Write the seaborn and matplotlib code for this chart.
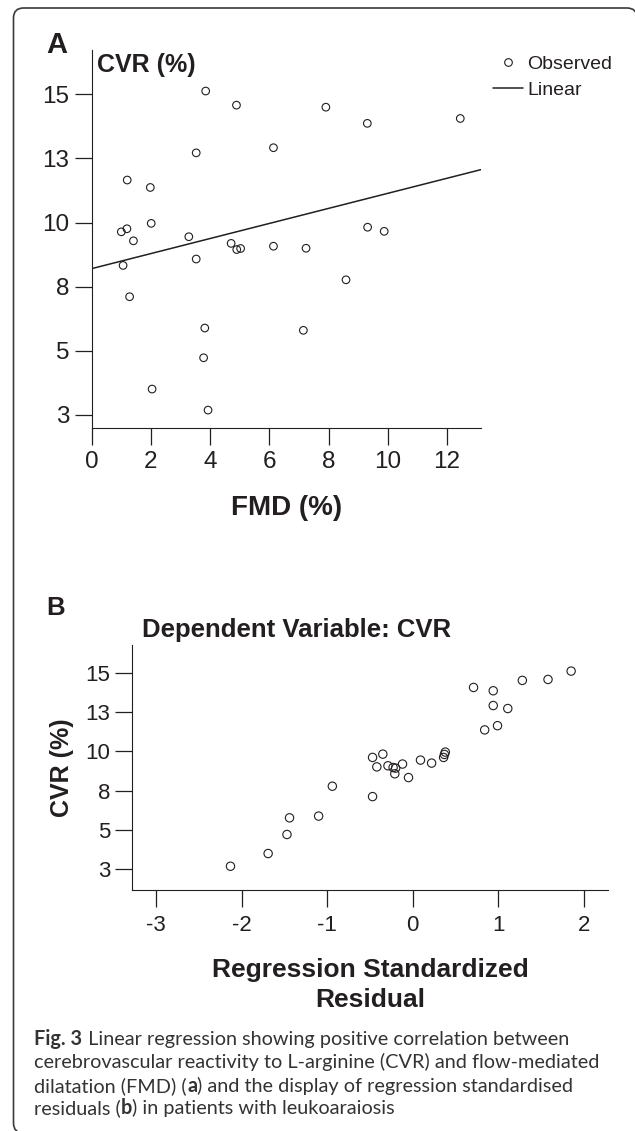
import matplotlib
matplotlib.use("Agg")
import matplotlib.pyplot as plt
from matplotlib.lines import Line2D
from matplotlib.patches import PathPatch
from matplotlib.path import Path
from matplotlib.transforms import IdentityTransform
import seaborn as sns
import pandas as pd

# panel A: FMD (%) vs CVR (%)
fmd = [3.85, 4.89, 3.53, 6.14, 1.20, 1.98, 2.01, 1.00, 1.19, 1.41,
       3.28, 4.71, 4.90, 5.03, 6.14, 7.24, 3.53, 1.06, 1.28, 3.82,
       7.15, 3.78, 2.04, 3.93, 7.91, 9.31, 12.45, 9.32, 9.88, 8.59]
cvr = [15.13, 14.58, 12.72, 12.92, 11.66, 11.37, 9.97, 9.64, 9.76, 9.29,
       9.45, 9.19, 8.95, 8.99, 9.08, 9.00, 8.58, 8.33, 7.11, 5.89,
       5.80, 4.73, 3.51, 2.69, 14.50, 13.87, 14.06, 9.82, 9.66, 7.77]

# panel B: standardized residual vs CVR (%)
resid = [1.85, 1.58, 1.28, 0.71, 0.94, 0.94, 1.11, 0.99, 0.84, 0.38,
         0.37, 0.36, -0.35, -0.47, -0.42, -0.29, -0.23, -0.20, -0.21, -0.12,
         -0.05, 0.09, 0.22, -0.94, -0.47, -1.44, -1.10, -1.47, -1.69, -2.13]
cvr_b = [15.10, 14.57, 14.51, 14.06, 13.85, 12.91, 12.72, 11.63, 11.36, 9.95,
         9.80, 9.61, 9.82, 9.61, 9.01, 9.08, 8.97, 8.93, 8.57, 9.19,
         8.33, 9.44, 9.25, 7.78, 7.12, 5.77, 5.88, 4.71, 3.50, 2.69]

cvr_ticks = [2.5, 5, 7.5, 10, 12.5, 15]
cvr_ticklabels = ["3", "5", "8", "10", "13", "15"]
fmd_ticks = [0, 2, 4, 6, 8, 10, 12]
resid_ticks = [-3, -2, -1, 0, 1, 2]

caption = [
    [("Fig. 3", "bold"), (" Linear regression showing positive correlation between", "normal")],
    [("cerebrovascular reactivity to L-arginine (CVR) and flow-mediated", "normal")],
    [("dilatation (FMD) (", "normal"), ("a", "bold"), (") and the display of regression standardised", "normal")],
    [("residuals (", "normal"), ("b", "bold"), (") in patients with leukoaraiosis", "normal")],
]

INK = "#231f20"
W, H = 635, 1131

sns.set_style("ticks")
plt.rcParams["font.family"] = ["Liberation Sans", "DejaVu Sans"]
plt.rcParams["text.color"] = INK
plt.rcParams["axes.edgecolor"] = INK
plt.rcParams["axes.labelcolor"] = INK


def fx(px):
    return px / W


def fy(py):
    return 1 - py / H


fig = plt.figure(figsize=(W / 100, H / 100), dpi=100)
axA = fig.add_axes([fx(91.7), fy(428.3), fx(481) - fx(91.7), fy(50) - fy(428.3)])
axB = fig.add_axes([fx(132.3), fy(890), fx(607.5) - fx(132.3), fy(645) - fy(890)])

# ---- panel A
dfA = pd.DataFrame({"FMD": fmd, "CVR": cvr})
axA.set_xlim(0, 13.15)
axA.set_ylim(1.98, 16.73)
sns.regplot(data=dfA, x="FMD", y="CVR", scatter=False, ci=None, truncate=False,
            color=INK, line_kws={"linewidth": 1.1}, ax=axA)
sns.scatterplot(data=dfA, x="FMD", y="CVR", marker="o", s=30, color=INK,
                facecolors="none", edgecolor=INK, linewidth=0.8, ax=axA)
axA.set_xlim(0, 13.15)
axA.set_ylim(1.98, 16.73)
axA.set_xticks(fmd_ticks)
axA.set_yticks(cvr_ticks)
axA.set_yticklabels(cvr_ticklabels)
axA.tick_params(direction="out", length=12, width=0.9, colors=INK, labelsize=17.5, pad=4)
axA.set_xlabel("FMD (%)", fontsize=20, fontweight="bold", labelpad=16)
axA.set_ylabel("")
axA.text(0.013, (428.3 - 71.7) / 378.3, "CVR (%)", transform=axA.transAxes,
         ha="left", va="baseline", fontsize=18, fontweight="bold")
sns.despine(ax=axA)

handles = [
    Line2D([], [], marker="o", ls="none", mfc="none", mec=INK, ms=5.5, mew=0.8),
    Line2D([], [], color=INK, lw=1.1),
]
fig.legend(handles, ["Observed", "Linear"], loc="upper left",
           bbox_to_anchor=(fx(493), fy(55)), frameon=False, fontsize=14,
           handlelength=1.55, handletextpad=0.2, labelspacing=0.45,
           borderpad=0, borderaxespad=0)

# ---- panel B
dfB = pd.DataFrame({"resid": resid, "CVR": cvr_b})
sns.scatterplot(data=dfB, x="resid", y="CVR", marker="o", s=36, color=INK,
                facecolors="none", edgecolor=INK, linewidth=0.8, ax=axB)
axB.set_xlim(-3.277, 2.275)
axB.set_ylim(1.18, 16.76)
axB.set_xticks(resid_ticks)
axB.set_xticklabels([str(t) for t in resid_ticks])
axB.set_yticks(cvr_ticks)
axB.set_yticklabels(cvr_ticklabels)
axB.tick_params(direction="out", length=12, width=0.9, colors=INK, labelsize=16, pad=4)
axB.tick_params(axis="x", pad=6)
axB.set_xlabel("Regression Standardized\nResidual", fontsize=19, fontweight="bold",
               labelpad=16, linespacing=1.3)
axB.set_ylabel("CVR (%)", fontsize=18, fontweight="bold", labelpad=8)
sns.despine(ax=axB)

# panel letters and title
fig.text(fx(46.7), fy(53.3), "A", fontsize=21, fontweight="bold", va="baseline")
fig.text(fx(46.6), fy(615), "B", fontsize=18.5, fontweight="bold", va="baseline")
fig.text(fx(141.8), fy(636.7), "Dependent Variable: CVR", fontsize=18.5,
         fontweight="bold", va="baseline")

# caption: pieces laid end to end on one baseline so bold bits sit inline
renderer = fig.canvas.get_renderer()
baselines = [1045, 1068.3, 1091.7, 1114]
for parts, base in zip(caption, baselines):
    x = fx(34.4)
    for txt, wt in parts:
        t = fig.text(x, fy(base), txt, fontsize=14.3, fontweight=wt,
                     family=["Lato", "DejaVu Sans"], color="#333333", va="baseline")
        x = fx(t.get_window_extent(renderer).x1)

# frame: left and top edges with rounded corners (pixel coords, y from bottom)
L, T, R, r = 13.5, H - 8, 637, 10
verts = [(L + r, -2), (L, -2), (L, r - 2),
         (L, T - r), (L, T), (L + r, T),
         (R - r, T), (R, T), (R, T - r)]
codes = [Path.MOVETO, Path.CURVE3, Path.CURVE3,
         Path.LINETO, Path.CURVE3, Path.CURVE3,
         Path.LINETO, Path.CURVE3, Path.CURVE3]
frame = PathPatch(Path(verts, codes), transform=IdentityTransform(),
                  fill=False, ec="#3a3a3a", lw=1.2)
fig.add_artist(frame)

fig.savefig("out.png", dpi=100)
